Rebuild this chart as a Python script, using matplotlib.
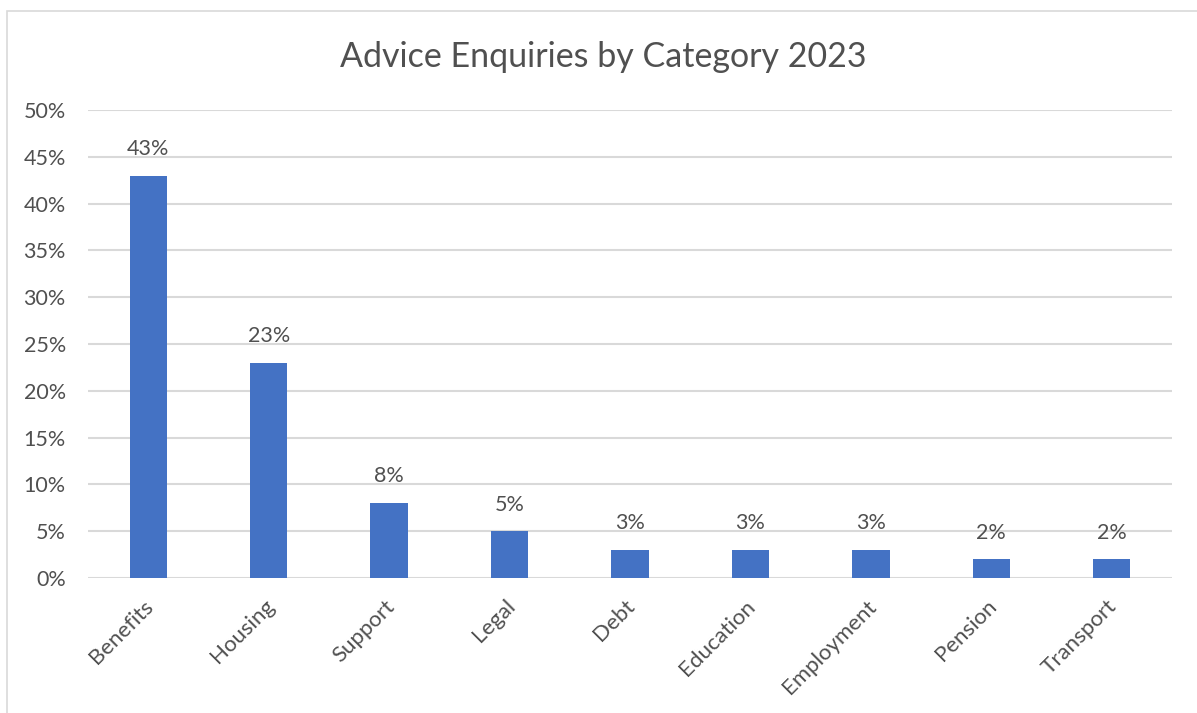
import matplotlib
matplotlib.use("Agg")
import matplotlib.pyplot as plt
from matplotlib.patches import Rectangle
from matplotlib.transforms import ScaledTranslation

categories = ["Benefits", "Housing", "Support", "Legal", "Debt",
              "Education", "Employment", "Pension", "Transport"]
shares = [0.43, 0.23, 0.08, 0.05, 0.03, 0.03, 0.03, 0.02, 0.02]
yticks = [0.0, 0.05, 0.10, 0.15, 0.20, 0.25, 0.30, 0.35, 0.40, 0.45, 0.50]

text_color = "#505050"
grid_color = "#d9d9d9"
bar_color = "#4472c4"

plt.rcParams["font.family"] = ["Lato", "DejaVu Sans"]

W, H = 1197, 713
fig = plt.figure(figsize=(W / 100, H / 100), dpi=100)

# chart border (only top/left visible in the crop)
fig.patches.append(Rectangle((7 / W, -0.1), 1.2, 1 - 11 / H + 0.1,
                             transform=fig.transFigure, fill=False,
                             edgecolor=grid_color, linewidth=1.2))

ax = fig.add_axes([88 / W, 1 - 578 / H, (1172 - 88) / W, (578 - 110) / H])
x = range(len(categories))
bars = ax.bar(x, shares, width=0.31, color=bar_color, zorder=3)

ax.set_xlim(-0.5, len(categories) - 0.5)
ax.set_ylim(0, 0.5)
ax.set_yticks(yticks)
ax.set_yticklabels([f"{v * 100:.0f}%" for v in yticks])
ax.set_xticks(list(x))
ax.set_xticklabels(categories, rotation=45, ha="right", rotation_mode="anchor")
ax.tick_params(axis="both", length=0, colors=text_color, labelsize=15.5)
ax.tick_params(axis="x", labelsize=16, pad=13)
ax.tick_params(axis="y", pad=16)
shift = ScaledTranslation(-5 / 100, 0, fig.dpi_scale_trans)
for lab in ax.get_xticklabels():
    lab.set_transform(lab.get_transform() + shift)

ax.grid(axis="y", color=grid_color, linewidth=1.5, zorder=0)
for s in ax.spines.values():
    s.set_visible(False)

for b, v in zip(bars, shares):
    ax.annotate(f"{v * 100:.0f}%", (b.get_x() + b.get_width() / 2, v),
                xytext=(0, 12), textcoords="offset points",
                ha="center", va="bottom", fontsize=15.5, color=text_color)

fig.text(603 / W, 1 - 57 / H, "Advice Enquiries by Category 2023",
         ha="center", va="center", fontsize=24.5, color=text_color)

fig.savefig("out.png", dpi=100)
